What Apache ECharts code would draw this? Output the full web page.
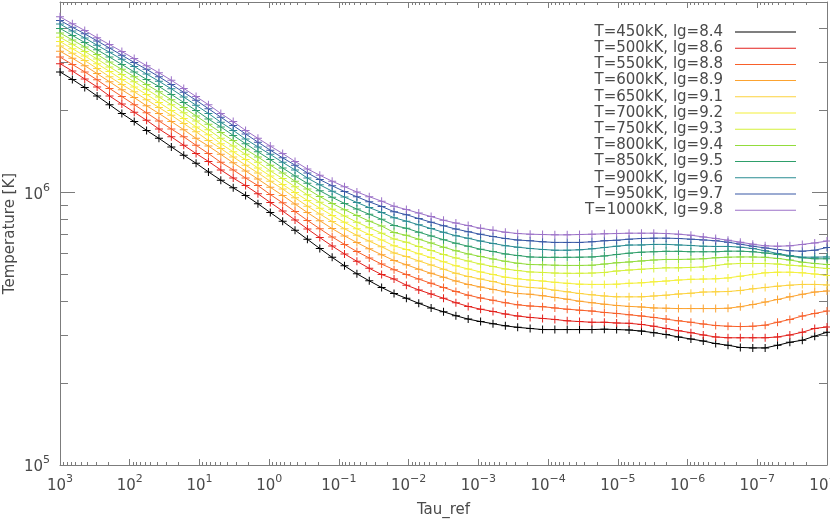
<!DOCTYPE html>
<html>
<head>
<meta charset="utf-8">
<script src="https://cdn.jsdelivr.net/npm/echarts@6.0.0/dist/echarts.min.js"></script>
<style>
  html, body { margin: 0; padding: 0; background: #fff; }
  #chart { width: 830px; height: 522px; }
</style>
</head>
<body>
<div id="chart"></div>
<script>
// optical depth grid (reference tau), shared by all models
const tauRef = [
  1000, 664.8, 441.9, 293.6, 195.1, 129.7, 86.2, 57.3, 38.1, 25.3,
  16.8, 11.18, 7.43, 4.94, 3.28, 2.18, 1.45, 0.964, 0.641, 0.426,
  0.283, 0.188, 0.125, 0.0831, 0.0552, 0.0367, 0.0244, 0.0162, 0.01077, 0.00716,
  0.00476, 0.00316, 0.00210, 0.00140, 9.29e-4, 6.17e-4, 4.10e-4, 2.73e-4, 1.81e-4, 1.20e-4,
  8.00e-5, 5.32e-5, 3.54e-5, 2.35e-5, 1.56e-5, 1.04e-5, 6.90e-6, 4.58e-6, 3.05e-6, 2.03e-6,
  1.35e-6, 8.95e-7, 5.95e-7, 3.95e-7, 2.63e-7, 1.75e-7, 1.16e-7, 7.71e-8, 5.12e-8, 3.41e-8,
  2.26e-8, 1.50e-8, 1e-8
];

const modelNames = [
  'T=450kK, lg=8.4', 'T=500kK, lg=8.6', 'T=550kK, lg=8.8', 'T=600kK, lg=8.9',
  'T=650kK, lg=9.1', 'T=700kK, lg=9.2', 'T=750kK, lg=9.3', 'T=800kK, lg=9.4',
  'T=850kK, lg=9.5', 'T=900kK, lg=9.6', 'T=950kK, lg=9.7', 'T=1000kK, lg=9.8'
];

const modelColors = [
  '#000000', '#e3211c', '#f8602a', '#fca330', '#fcd23e', '#f4f03a',
  '#d4f03a', '#92dc3c', '#2e9e6a', '#2a8c92', '#3858a6', '#9c72c8'
];

// temperature [K] at each tau point
const temp450 = [
  2.77e6, 2.60e6, 2.43e6, 2.26e6, 2.10e6, 1.95e6, 1.82e6, 1.69e6, 1.58e6, 1.47e6,
  1.37e6, 1.28e6, 1.19e6, 1.11e6, 1.04e6, 9.75e5, 9.09e5, 8.44e5, 7.84e5, 7.27e5,
  6.73e5, 6.23e5, 5.78e5, 5.38e5, 5.03e5, 4.74e5, 4.48e5, 4.26e5, 4.09e5, 3.92e5,
  3.77e5, 3.65e5, 3.53e5, 3.43e5, 3.36e5, 3.30e5, 3.24e5, 3.20e5, 3.17e5, 3.14e5,
  3.14e5, 3.14e5, 3.14e5, 3.14e5, 3.15e5, 3.14e5, 3.13e5, 3.10e5, 3.06e5, 3.01e5,
  2.95e5, 2.90e5, 2.85e5, 2.79e5, 2.75e5, 2.70e5, 2.69e5, 2.69e5, 2.75e5, 2.82e5,
  2.87e5, 2.97e5, 3.07e5
];
const temp500 = [
  2.97e6, 2.79e6, 2.61e6, 2.44e6, 2.26e6, 2.11e6, 1.97e6, 1.84e6, 1.71e6, 1.60e6,
  1.49e6, 1.39e6, 1.30e6, 1.21e6, 1.13e6, 1.06e6, 9.89e5, 9.19e5, 8.55e5, 7.93e5,
  7.35e5, 6.83e5, 6.36e5, 5.95e5, 5.59e5, 5.27e5, 5.00e5, 4.81e5, 4.57e5, 4.39e5,
  4.24e5, 4.09e5, 3.94e5, 3.82e5, 3.73e5, 3.66e5, 3.58e5, 3.52e5, 3.48e5, 3.45e5,
  3.42e5, 3.38e5, 3.36e5, 3.34e5, 3.34e5, 3.32e5, 3.31e5, 3.28e5, 3.23e5, 3.17e5,
  3.11e5, 3.06e5, 3.00e5, 2.95e5, 2.93e5, 2.93e5, 2.93e5, 2.93e5, 2.95e5, 3.00e5,
  3.07e5, 3.17e5, 3.21e5
];
const temp550 = [
  3.14e6, 2.95e6, 2.77e6, 2.59e6, 2.41e6, 2.25e6, 2.10e6, 1.96e6, 1.83e6, 1.71e6,
  1.60e6, 1.49e6, 1.39e6, 1.29e6, 1.21e6, 1.13e6, 1.06e6, 9.83e5, 9.16e5, 8.51e5,
  7.90e5, 7.36e5, 6.87e5, 6.45e5, 6.07e5, 5.75e5, 5.46e5, 5.21e5, 5.00e5, 4.81e5,
  4.64e5, 4.48e5, 4.33e5, 4.20e5, 4.10e5, 4.02e5, 3.94e5, 3.87e5, 3.83e5, 3.81e5,
  3.77e5, 3.73e5, 3.70e5, 3.67e5, 3.63e5, 3.60e5, 3.56e5, 3.52e5, 3.48e5, 3.43e5,
  3.38e5, 3.34e5, 3.29e5, 3.25e5, 3.23e5, 3.22e5, 3.23e5, 3.26e5, 3.34e5, 3.42e5,
  3.52e5, 3.60e5, 3.67e5
];
const temp600 = [
  3.30e6, 3.11e6, 2.92e6, 2.73e6, 2.55e6, 2.38e6, 2.23e6, 2.08e6, 1.95e6, 1.82e6,
  1.70e6, 1.58e6, 1.48e6, 1.38e6, 1.285e6, 1.20e6, 1.12e6, 1.045e6, 9.75e5, 9.07e5,
  8.44e5, 7.88e5, 7.37e5, 6.93e5, 6.55e5, 6.21e5, 5.91e5, 5.63e5, 5.43e5, 5.23e5,
  5.05e5, 4.89e5, 4.73e5, 4.60e5, 4.50e5, 4.41e5, 4.32e5, 4.26e5, 4.23e5, 4.18e5,
  4.12e5, 4.06e5, 3.99e5, 3.94e5, 3.89e5, 3.85e5, 3.82e5, 3.80e5, 3.77e5, 3.76e5,
  3.75e5, 3.75e5, 3.75e5, 3.75e5, 3.76e5, 3.81e5, 3.88e5, 3.96e5, 4.05e5, 4.14e5,
  4.23e5, 4.31e5, 4.35e5
];
const temp650 = [
  3.45e6, 3.24e6, 3.05e6, 2.85e6, 2.66e6, 2.49e6, 2.34e6, 2.19e6, 2.05e6, 1.92e6,
  1.79e6, 1.67e6, 1.55e6, 1.45e6, 1.35e6, 1.26e6, 1.18e6, 1.10e6, 1.03e6, 9.56e5,
  8.91e5, 8.34e5, 7.82e5, 7.36e5, 6.96e5, 6.63e5, 6.32e5, 6.00e5, 5.82e5, 5.61e5,
  5.42e5, 5.23e5, 5.05e5, 4.92e5, 4.81e5, 4.71e5, 4.60e5, 4.53e5, 4.48e5, 4.45e5,
  4.38e5, 4.32e5, 4.26e5, 4.21e5, 4.17e5, 4.14e5, 4.14e5, 4.14e5, 4.17e5, 4.20e5,
  4.24e5, 4.27e5, 4.31e5, 4.32e5, 4.33e5, 4.37e5, 4.43e5, 4.48e5, 4.53e5, 4.57e5,
  4.60e5, 4.60e5, 4.58e5
];
const temp700 = [
  3.58e6, 3.37e6, 3.17e6, 2.97e6, 2.78e6, 2.60e6, 2.44e6, 2.29e6, 2.14e6, 2.00e6,
  1.87e6, 1.74e6, 1.63e6, 1.51e6, 1.41e6, 1.32e6, 1.23e6, 1.15e6, 1.07e6, 1.00e6,
  9.35e5, 8.76e5, 8.24e5, 7.77e5, 7.36e5, 7.01e5, 6.70e5, 6.37e5, 6.18e5, 5.96e5,
  5.77e5, 5.57e5, 5.38e5, 5.24e5, 5.11e5, 5.00e5, 4.89e5, 4.82e5, 4.77e5, 4.73e5,
  4.68e5, 4.64e5, 4.61e5, 4.60e5, 4.60e5, 4.61e5, 4.64e5, 4.66e5, 4.70e5, 4.73e5,
  4.77e5, 4.80e5, 4.81e5, 4.82e5, 4.86e5, 4.93e5, 5.00e5, 5.07e5, 5.10e5, 5.10e5,
  5.07e5, 5.02e5, 4.96e5
];
const temp750 = [
  3.71e6, 3.50e6, 3.29e6, 3.09e6, 2.89e6, 2.71e6, 2.55e6, 2.39e6, 2.24e6, 2.10e6,
  1.96e6, 1.83e6, 1.70e6, 1.58e6, 1.48e6, 1.38e6, 1.29e6, 1.20e6, 1.125e6, 1.05e6,
  9.80e5, 9.20e5, 8.67e5, 8.20e5, 7.78e5, 7.42e5, 7.09e5, 6.75e5, 6.57e5, 6.33e5,
  6.13e5, 5.92e5, 5.75e5, 5.60e5, 5.46e5, 5.35e5, 5.24e5, 5.17e5, 5.11e5, 5.09e5,
  5.06e5, 5.05e5, 5.05e5, 5.06e5, 5.09e5, 5.15e5, 5.19e5, 5.23e5, 5.26e5, 5.29e5,
  5.29e5, 5.31e5, 5.33e5, 5.40e5, 5.46e5, 5.49e5, 5.49e5, 5.49e5, 5.46e5, 5.41e5,
  5.37e5, 5.31e5, 5.26e5
];
const temp800 = [
  3.85e6, 3.63e6, 3.42e6, 3.21e6, 3.01e6, 2.83e6, 2.66e6, 2.49e6, 2.34e6, 2.19e6,
  2.05e6, 1.91e6, 1.78e6, 1.66e6, 1.55e6, 1.44e6, 1.35e6, 1.26e6, 1.18e6, 1.10e6,
  1.03e6, 9.66e5, 9.12e5, 8.65e5, 8.23e5, 7.85e5, 7.53e5, 7.13e5, 6.96e5, 6.74e5,
  6.52e5, 6.30e5, 6.11e5, 5.95e5, 5.82e5, 5.70e5, 5.59e5, 5.50e5, 5.44e5, 5.43e5,
  5.41e5, 5.40e5, 5.40e5, 5.41e5, 5.46e5, 5.52e5, 5.56e5, 5.61e5, 5.65e5, 5.68e5,
  5.68e5, 5.69e5, 5.71e5, 5.76e5, 5.79e5, 5.80e5, 5.80e5, 5.78e5, 5.73e5, 5.65e5,
  5.55e5, 5.49e5, 5.44e5
];
const temp850 = [
  4.00e6, 3.77e6, 3.55e6, 3.34e6, 3.14e6, 2.95e6, 2.77e6, 2.60e6, 2.45e6, 2.29e6,
  2.14e6, 2.00e6, 1.86e6, 1.74e6, 1.62e6, 1.51e6, 1.41e6, 1.32e6, 1.23e6, 1.15e6,
  1.08e6, 1.015e6, 9.60e5, 9.12e5, 8.69e5, 8.32e5, 7.97e5, 7.57e5, 7.39e5, 7.15e5,
  6.93e5, 6.71e5, 6.51e5, 6.35e5, 6.19e5, 6.07e5, 5.95e5, 5.87e5, 5.80e5, 5.78e5,
  5.78e5, 5.78e5, 5.79e5, 5.80e5, 5.85e5, 5.92e5, 5.99e5, 6.04e5, 6.06e5, 6.08e5,
  6.08e5, 6.06e5, 6.06e5, 6.06e5, 6.09e5, 6.09e5, 6.06e5, 6.00e5, 5.92e5, 5.84e5,
  5.76e5, 5.71e5, 5.71e5
];
const temp900 = [
  4.15e6, 3.91e6, 3.69e6, 3.47e6, 3.27e6, 3.08e6, 2.90e6, 2.72e6, 2.56e6, 2.40e6,
  2.24e6, 2.09e6, 1.95e6, 1.81e6, 1.69e6, 1.57e6, 1.47e6, 1.38e6, 1.29e6, 1.21e6,
  1.13e6, 1.067e6, 1.011e6, 9.62e5, 9.19e5, 8.80e5, 8.45e5, 8.08e5, 7.85e5, 7.61e5,
  7.37e5, 7.14e5, 6.94e5, 6.79e5, 6.63e5, 6.50e5, 6.38e5, 6.30e5, 6.23e5, 6.18e5,
  6.14e5, 6.14e5, 6.16e5, 6.21e5, 6.28e5, 6.35e5, 6.41e5, 6.42e5, 6.45e5, 6.45e5,
  6.42e5, 6.39e5, 6.35e5, 6.34e5, 6.34e5, 6.30e5, 6.23e5, 6.11e5, 5.97e5, 5.87e5,
  5.79e5, 5.79e5, 5.80e5
];
const temp950 = [
  4.28e6, 4.04e6, 3.82e6, 3.60e6, 3.39e6, 3.19e6, 3.00e6, 2.83e6, 2.66e6, 2.49e6,
  2.33e6, 2.18e6, 2.03e6, 1.89e6, 1.76e6, 1.64e6, 1.53e6, 1.43e6, 1.34e6, 1.26e6,
  1.18e6, 1.115e6, 1.058e6, 1.008e6, 9.64e5, 9.24e5, 8.89e5, 8.50e5, 8.29e5, 8.02e5,
  7.78e5, 7.55e5, 7.34e5, 7.18e5, 7.02e5, 6.89e5, 6.78e5, 6.69e5, 6.65e5, 6.59e5,
  6.56e5, 6.56e5, 6.56e5, 6.59e5, 6.65e5, 6.68e5, 6.74e5, 6.78e5, 6.80e5, 6.80e5,
  6.78e5, 6.74e5, 6.70e5, 6.65e5, 6.57e5, 6.46e5, 6.35e5, 6.26e5, 6.18e5, 6.11e5,
  6.09e5, 6.14e5, 6.28e5
];
const temp1000 = [
  4.41e6, 4.16e6, 3.93e6, 3.70e6, 3.49e6, 3.29e6, 3.10e6, 2.92e6, 2.75e6, 2.58e6,
  2.41e6, 2.25e6, 2.10e6, 1.95e6, 1.82e6, 1.69e6, 1.58e6, 1.48e6, 1.39e6, 1.30e6,
  1.22e6, 1.157e6, 1.10e6, 1.05e6, 1.004e6, 9.65e5, 9.29e5, 8.90e5, 8.66e5, 8.40e5,
  8.16e5, 7.91e5, 7.72e5, 7.56e5, 7.39e5, 7.27e5, 7.15e5, 7.07e5, 7.03e5, 7.01e5,
  6.99e5, 6.99e5, 7.01e5, 7.03e5, 7.05e5, 7.07e5, 7.09e5, 7.09e5, 7.09e5, 7.07e5,
  7.03e5, 6.97e5, 6.87e5, 6.78e5, 6.68e5, 6.57e5, 6.46e5, 6.37e5, 6.35e5, 6.37e5,
  6.45e5, 6.53e5, 6.63e5
];

const temps = [temp450, temp500, temp550, temp600, temp650, temp700,
               temp750, temp800, temp850, temp900, temp950, temp1000];

// tick values
const xDecades = [1e3, 1e2, 1e1, 1, 1e-1, 1e-2, 1e-3, 1e-4, 1e-5, 1e-6, 1e-7, 1e-8];
const yDecades = [1e5, 1e6];
const yMinor = [2e5, 3e5, 4e5, 5e5, 6e5, 7e5, 8e5, 9e5, 2e6, 3e6, 4e6];
const xMinor = [];
for (let n = -8; n < 3; n++) {
  for (let k = 2; k <= 9; k++) xMinor.push(Number(k + 'e' + n));
}

const font = "'DejaVu Sans', sans-serif";
const axisInk = '#7c7c7c';
const textInk = '#4a4a4a';

function powLabel(v) {
  const e = Math.round(Math.log10(v));
  return '{b|10}{e|' + (e < 0 ? '\u2212' + (-e) : e) + '}';
}
const powRich = {
  b: { fontSize: 15, fontFamily: font, color: textInk, lineHeight: 20, verticalAlign: 'bottom' },
  e: { fontSize: 11, fontFamily: font, color: textInk, lineHeight: 10, verticalAlign: 'top' }
};

function makeX(grid, pos, ticks, len, withLabels) {
  return {
    gridIndex: grid, type: 'log', logBase: 10, position: pos, inverse: true,
    min: 1e-8, max: 1e3,
    axisLine: { show: grid === 0, lineStyle: { color: axisInk, width: 1 } },
    axisTick: { show: true, inside: true, length: len, customValues: ticks,
                lineStyle: { color: axisInk, width: 1 } },
    axisLabel: withLabels
      ? { show: true, customValues: xDecades, formatter: powLabel, rich: powRich, margin: 9 }
      : { show: false },
    splitLine: { show: false },
    name: withLabels ? 'Tau_ref' : '',
    nameLocation: 'middle', nameGap: 38, nameMoveOverlap: false,
    nameTextStyle: { fontSize: 15, fontFamily: font, color: textInk }
  };
}
function makeY(grid, pos, ticks, len, withLabels) {
  return {
    gridIndex: grid, type: 'log', logBase: 10, position: pos,
    min: 1e5, max: 5e6,
    axisLine: { show: grid === 0, lineStyle: { color: axisInk, width: 1 } },
    axisTick: { show: true, inside: true, length: len, customValues: ticks,
                lineStyle: { color: axisInk, width: 1 } },
    axisLabel: withLabels
      ? { show: true, customValues: yDecades, formatter: powLabel, rich: powRich, margin: 10 }
      : { show: false },
    splitLine: { show: false },
    name: withLabels ? 'Temperature [K]' : '',
    nameLocation: 'middle', nameGap: 42, nameRotate: 90, nameMoveOverlap: false,
    nameTextStyle: { fontSize: 15, fontFamily: font, color: textInk }
  };
}

const gridBox = { left: 60, right: 3, top: 2, bottom: 57, outerBoundsMode: 'none' };
const plusMark = 'path://M0,3.5H8V4.5H0Z M3.5,0H4.5V8H3.5Z';

const chart = echarts.init(document.getElementById('chart'), null, { renderer: 'canvas' });
chart.setOption({
  animation: false,
  backgroundColor: '#ffffff',
  grid: [Object.assign({}, gridBox), Object.assign({}, gridBox)],
  xAxis: [
    makeX(0, 'bottom', xDecades, 6, true),
    makeX(0, 'top', xDecades, 6, false),
    makeX(1, 'bottom', xMinor, 3, false),
    makeX(1, 'top', xMinor, 3, false)
  ],
  yAxis: [
    makeY(0, 'left', yDecades, 15, true),
    makeY(0, 'right', yDecades, 15, false),
    makeY(1, 'left', yMinor, 8, false),
    makeY(1, 'right', yMinor, 8, false)
  ],
  legend: {
    data: modelNames, orient: 'vertical', right: 29, top: 19,
    align: 'right', icon: 'rect', itemWidth: 61, itemHeight: 1, itemGap: 0.2,
    textStyle: { fontSize: 15, fontFamily: font, color: textInk, lineHeight: 16,
                 padding: [0, 7, 0, 0] }
  },
  series: modelNames.map((name, k) => ({
    name: name,
    type: 'line',
    xAxisIndex: 0, yAxisIndex: 0,
    data: tauRef.map((tau, i) => [tau, temps[k][i]]),
    symbol: plusMark, symbolSize: 8, showSymbol: true,
    lineStyle: { color: modelColors[k], width: 1 },
    itemStyle: { color: modelColors[k] },
    emphasis: { disabled: true }
  }))
});
</script>
</body>
</html>
